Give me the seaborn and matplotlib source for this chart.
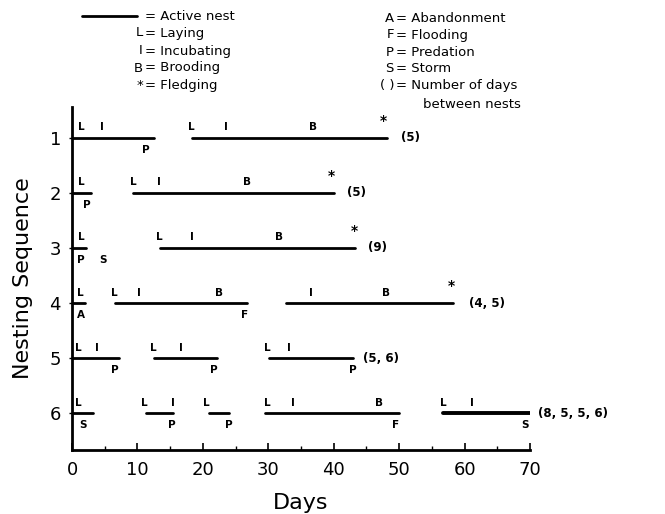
import numpy as np
import pandas as pd
import matplotlib
matplotlib.use("Agg")
import matplotlib.pyplot as plt
import seaborn as sns

# nest segments per nesting sequence: (start day, end day)
rows = [1, 2, 3, 4, 5, 6]
seg_row = [1, 1, 2, 2, 3, 3, 4, 4, 4, 5, 5, 5, 6, 6, 6, 6, 6]
seg_start = [0.0, 18.4, 0.0, 9.3, 0.0, 13.4, 0.0, 6.5, 32.7, 0.0, 12.5, 30.1, 0.0, 11.3, 20.9, 29.5, 56.7]
seg_end = [12.6, 48.1, 2.9, 40.1, 2.2, 43.3, 2.0, 26.7, 58.3, 7.2, 22.1, 42.9, 3.2, 15.5, 24.0, 50.0, 70.0]
seg_thick = [0, 0, 0, 0, 0, 0, 0, 0, 0, 0, 0, 0, 0, 0, 0, 0, 1]

# stage letters above the line (L, I, B)
top_row = [1, 1, 1, 1, 1, 2, 2, 2, 2, 3, 3, 3, 3, 4, 4, 4, 4, 4, 4, 5, 5, 5, 5, 5, 5,
           6, 6, 6, 6, 6, 6, 6, 6, 6]
top_day = [1.4, 4.6, 18.3, 23.5, 36.9, 1.4, 9.4, 13.3, 26.8, 1.4, 13.3, 18.3, 31.7,
           1.2, 6.5, 10.3, 22.4, 36.5, 48.0, 1.0, 3.8, 12.4, 16.7, 29.9, 33.1,
           0.9, 11.1, 15.4, 20.6, 29.8, 33.7, 46.9, 56.8, 61.2]
top_txt = ["L", "I", "L", "I", "B", "L", "L", "I", "B", "L", "L", "I", "B",
           "L", "L", "I", "B", "I", "B", "L", "I", "L", "I", "L", "I",
           "L", "L", "I", "L", "L", "I", "B", "L", "I"]

# fate letters below the line (P, S, A, F)
bot_row = [1, 2, 3, 3, 4, 4, 5, 5, 5, 6, 6, 6, 6, 6]
bot_day = [11.3, 2.2, 1.4, 4.7, 1.4, 26.4, 6.5, 21.7, 42.9, 1.7, 15.2, 24.0, 49.4, 69.3]
bot_txt = ["P", "P", "P", "S", "A", "F", "P", "P", "P", "S", "P", "P", "F", "S"]

# fledging asterisks
fl_row = [1, 2, 3, 4]
fl_day = [47.6, 39.7, 43.2, 58.0]

# days between nests
gap_row = [1, 2, 3, 4, 5, 6]
gap_day = [50.3, 42.0, 45.2, 60.6, 44.4, 71.2]
gap_txt = ["(5)", "(5)", "(9)", "(4, 5)", "(5, 6)", "(8, 5, 5, 6)"]

recs = []
for i in range(len(seg_row)):
    for d in (seg_start[i], seg_end[i]):
        recs.append({"seg": i, "day": d, "row": seg_row[i], "w": seg_thick[i]})
df = pd.DataFrame(recs)

sns.set_style("ticks")
plt.rcParams["font.family"] = ["DejaVu Sans"]
for key in ("text.color", "axes.labelcolor", "xtick.color", "ytick.color"):
    plt.rcParams[key] = "black"

fig = plt.figure(figsize=(6.65, 5.14), dpi=100)
ax = fig.add_axes([0.1083, 0.1245, 0.6887, 0.6673])

sns.lineplot(data=df, x="day", y="row", units="seg", estimator=None,
             size="w", sizes={0: 2.0, 1: 2.8}, color="black", legend=False,
             sort=False, ax=ax)

for r, d, t in zip(top_row, top_day, top_txt):
    ax.text(d, r - 0.19, t, ha="center", va="center", fontsize=7.5, fontweight="semibold")
for r, d, t in zip(bot_row, bot_day, bot_txt):
    ax.text(d, r + 0.22, t, ha="center", va="center", fontsize=7.5, fontweight="semibold")
for r, d in zip(fl_row, fl_day):
    ax.text(d, r - 0.3, "*", ha="center", va="center", fontsize=10, fontweight="bold")
for r, d, t in zip(gap_row, gap_day, gap_txt):
    ax.text(d, r, t, ha="left", va="center", fontsize=8.5, fontweight="semibold")

ax.set_xlim(0, 70)
ax.set_ylim(6.67, 0.44)
ax.set_xticks(np.arange(0, 71, 10))
ax.set_xticks(np.arange(0, 71, 5), minor=True)
ax.set_yticks(rows)
ax.set_yticklabels([str(r) for r in rows])
ax.tick_params(axis="x", direction="in", length=5, width=1.2, labelsize=13, pad=8)
ax.tick_params(axis="x", which="minor", direction="in", length=3, width=1)
ax.tick_params(axis="y", length=2, width=1, labelsize=13, pad=6)
ax.set_xlabel("Days", fontsize=16, labelpad=10)
ax.set_ylabel("Nesting Sequence", fontsize=16, labelpad=12)
sns.despine(ax=ax)
for s in ("left", "bottom"):
    ax.spines[s].set_linewidth(2)
    ax.spines[s].set_color("black")

# key
fig.add_artist(plt.Line2D([82 / 665, 137 / 665], [1 - 16 / 514] * 2, color="black", lw=2))
left_keys = ["", "L", "I", "B", "*"]
left_desc = ["Active nest", "Laying", "Incubating", "Brooding", "Fledging"]
left_y = [16, 33, 51, 68, 86]
for k, dsc, y in zip(left_keys, left_desc, left_y):
    fy = 1 - y / 514
    if k:
        fig.text(143 / 665, fy, k, ha="right", va="center", fontsize=9.5)
    fig.text(145 / 665, fy, "= " + dsc, ha="left", va="center", fontsize=9.5)

right_keys = ["A", "F", "P", "S", "( )"]
right_desc = ["Abandonment", "Flooding", "Predation", "Storm", "Number of days"]
right_y = [18, 35, 52, 69, 86]
for k, dsc, y in zip(right_keys, right_desc, right_y):
    fy = 1 - y / 514
    fig.text(394 / 665, fy, k, ha="right", va="center", fontsize=9.5)
    fig.text(396 / 665, fy, "= " + dsc, ha="left", va="center", fontsize=9.5)
fig.text(423 / 665, 1 - 104 / 514, "between nests", ha="left", va="center", fontsize=9.5)

fig.savefig("out.png", dpi=100)
